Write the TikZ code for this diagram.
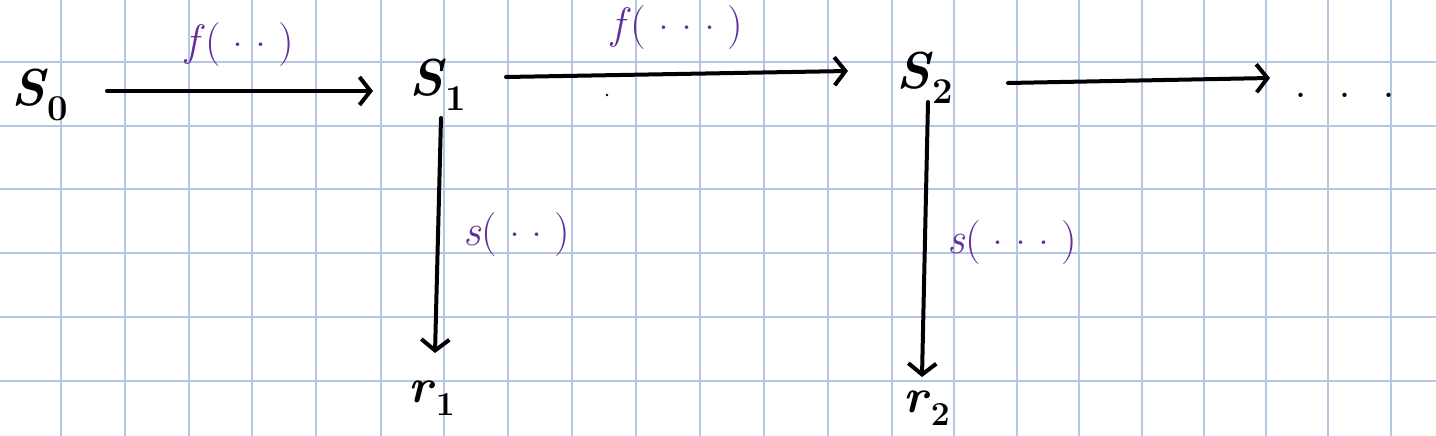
\documentclass[tikz,border=0pt]{standalone}
\usetikzlibrary{arrows.meta,calc}
\definecolor{gridc}{RGB}{180,198,224}
\definecolor{purp}{RGB}{100,46,152}
\newcommand{\gp}{\hspace{0.27em}}
\newcommand{\md}{\raisebox{0.22em}{.}}
\tikzset{
  gridline/.style={gridc, line width=2pt},
  statelab/.style={inner sep=0pt, font=\fontsize{52}{52}\selectfont\bfseries},
  outlab/.style={inner sep=0pt, font=\fontsize{48}{48}\selectfont\bfseries},
  fnlab/.style={inner sep=0pt, text=purp, font=\fontsize{44}{44}\selectfont},
  arr/.style={line width=4pt, line cap=round, -{Straight Barb[length=11pt,width=28pt,line width=4pt]}}
}
\begin{document}
\begin{tikzpicture}[x=1pt,y=-1pt]
\useasboundingbox (0,0) rectangle (1436,436);
\fill[white] (0,0) rectangle (1436,436);
\foreach \x in {61,125,189,252,316,381,444,508,572,636,700,764,828,892,954,1017,1079,1142,1204,1266,1328,1391}
  \draw[gridline] (\x,0) -- (\x,436);
\foreach \y in {62,126,189,253,317,381}
  \draw[gridline] (0,\y) -- (1436,\y);

\node[statelab] (s0) at (40,95) {\textit{S}\textsubscript{0}};
\node[statelab] (s1) at (438,85) {\textit{S}\textsubscript{1}};
\node[statelab] (s2) at (925,78) {\textit{S}\textsubscript{2}};
\node[inner sep=0pt, font=\fontsize{52}{52}\selectfont] (dots) at (1345,95) {.\hspace{0.6em}.\hspace{0.6em}.};
\node[outlab] (r1) at (432,398) {\textit{r}\textsubscript{1}};
\node[outlab] (r2) at (927,408) {\textit{r}\textsubscript{2}};

\node[fnlab] (f1) at (240,45) {\textit{f}(\gp\md\gp\md\gp)};
\node[fnlab] (f2) at (677,28) {\textit{f}(\gp\md\gp\md\gp\md\gp)};
\node[fnlab] (g1) at (517,235) {\textit{s}(\gp\md\gp\md\gp)};
\node[fnlab] (g2) at (1012,243) {\textit{s}(\gp\md\gp\md\gp\md\gp)};

\draw[arr] ($(s0)+(67,-4)$) -- ($(s1)+(-65,6)$);
\draw[arr] ($(s1)+(68,-8)$) -- ($(s2)+(-77,-7)$);
\draw[arr] ($(s2)+(83,5)$) -- ($(dots)+(-75,-17)$);
\draw[arr] ($(s1)+(3,33)$) -- ($(r1)+(3,-45)$);
\draw[arr] ($(s2)+(3,24)$) -- ($(r2)+(-5,-31)$);

\fill (607,95) circle (1.3);
\end{tikzpicture}
\end{document}
